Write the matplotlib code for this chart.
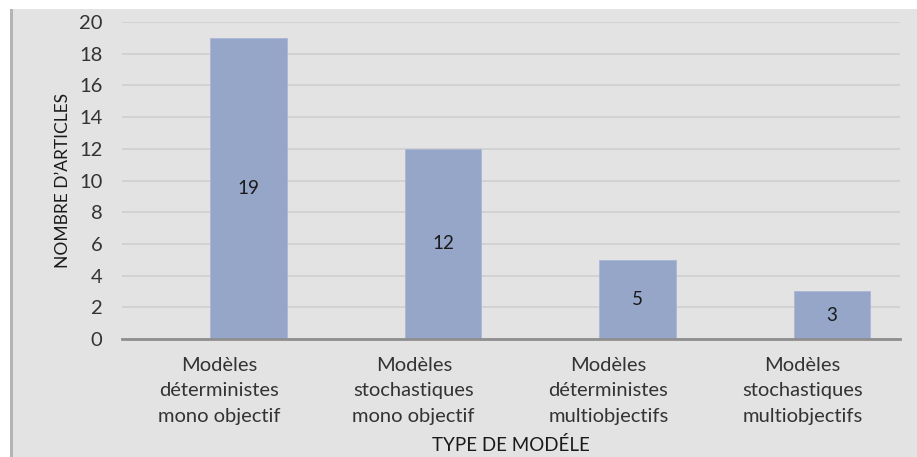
import matplotlib.pyplot as plt
from matplotlib.patches import Rectangle
import numpy as np

plt.rcParams['font.family'] = ['Lato', 'DejaVu Sans']

categories = [
    "Modèles\ndéterministes\nmono objectif",
    "Modèles\nstochastiques\nmono objectif",
    "Modèles\ndéterministes\nmultiobjectifs",
    "Modèles\nstochastiques\nmultiobjectifs",
]
articles = [19, 12, 5, 3]
yticks = [0, 2, 4, 6, 8, 10, 12, 14, 16, 18, 20]

bg = "#e3e3e3"
bar_color = "#96a6c8"

fig = plt.figure(figsize=(9.17, 4.57), dpi=100, facecolor="white")
# grey panel with a darker left border
fig.patches.append(Rectangle((11 / 917, 0), 1, 1 - 9 / 457, transform=fig.transFigure,
                             facecolor=bg, edgecolor="none", zorder=-2))
fig.patches.append(Rectangle((10 / 917, 0), 2.5 / 917, 1 - 9 / 457, transform=fig.transFigure,
                             facecolor="#b4b4b4", edgecolor="none", zorder=-1))

ax = fig.add_axes([122 / 917, 1 - 339 / 457, (900 - 122) / 917, (339 - 22) / 457])
ax.set_facecolor("none")

x = np.arange(len(categories))
bars = ax.bar(x + 0.15, articles, width=0.395, color=bar_color,
              edgecolor="#a9b6d6", linewidth=0.6, zorder=3)
for b, v in zip(bars, articles):
    ax.text(b.get_x() + b.get_width() / 2, v / 2, str(v), ha="center", va="center",
            fontsize=13.5, color="#1a1a1a", zorder=4)

ax.set_xlim(-0.5, len(categories) - 0.5)
ax.set_ylim(0, 20)
ax.set_yticks(yticks)
ax.set_xticks(x)
ax.set_xticklabels(categories, fontsize=14.5, color="#333333", linespacing=1.6)
ax.tick_params(axis="y", length=0, pad=14, labelsize=14.5, labelcolor="#333333")
ax.tick_params(axis="x", length=0, pad=13)

ax.grid(axis="y", color="#d2d2d2", linewidth=1.4, zorder=0)
for s in ["top", "right", "left"]:
    ax.spines[s].set_visible(False)
ax.spines["bottom"].set_color("#8e8e8e")
ax.spines["bottom"].set_linewidth(2)
ax.spines["bottom"].set_zorder(5)

ax.set_xlabel("TYPE DE MODÉLE", fontsize=13.5, color="#1a1a1a", labelpad=8)
ax.set_ylabel("NOMBRE D\u2019ARTICLES", fontsize=12.5, color="#1a1a1a", labelpad=6)

fig.savefig("out.png", dpi=100, facecolor=fig.get_facecolor())
